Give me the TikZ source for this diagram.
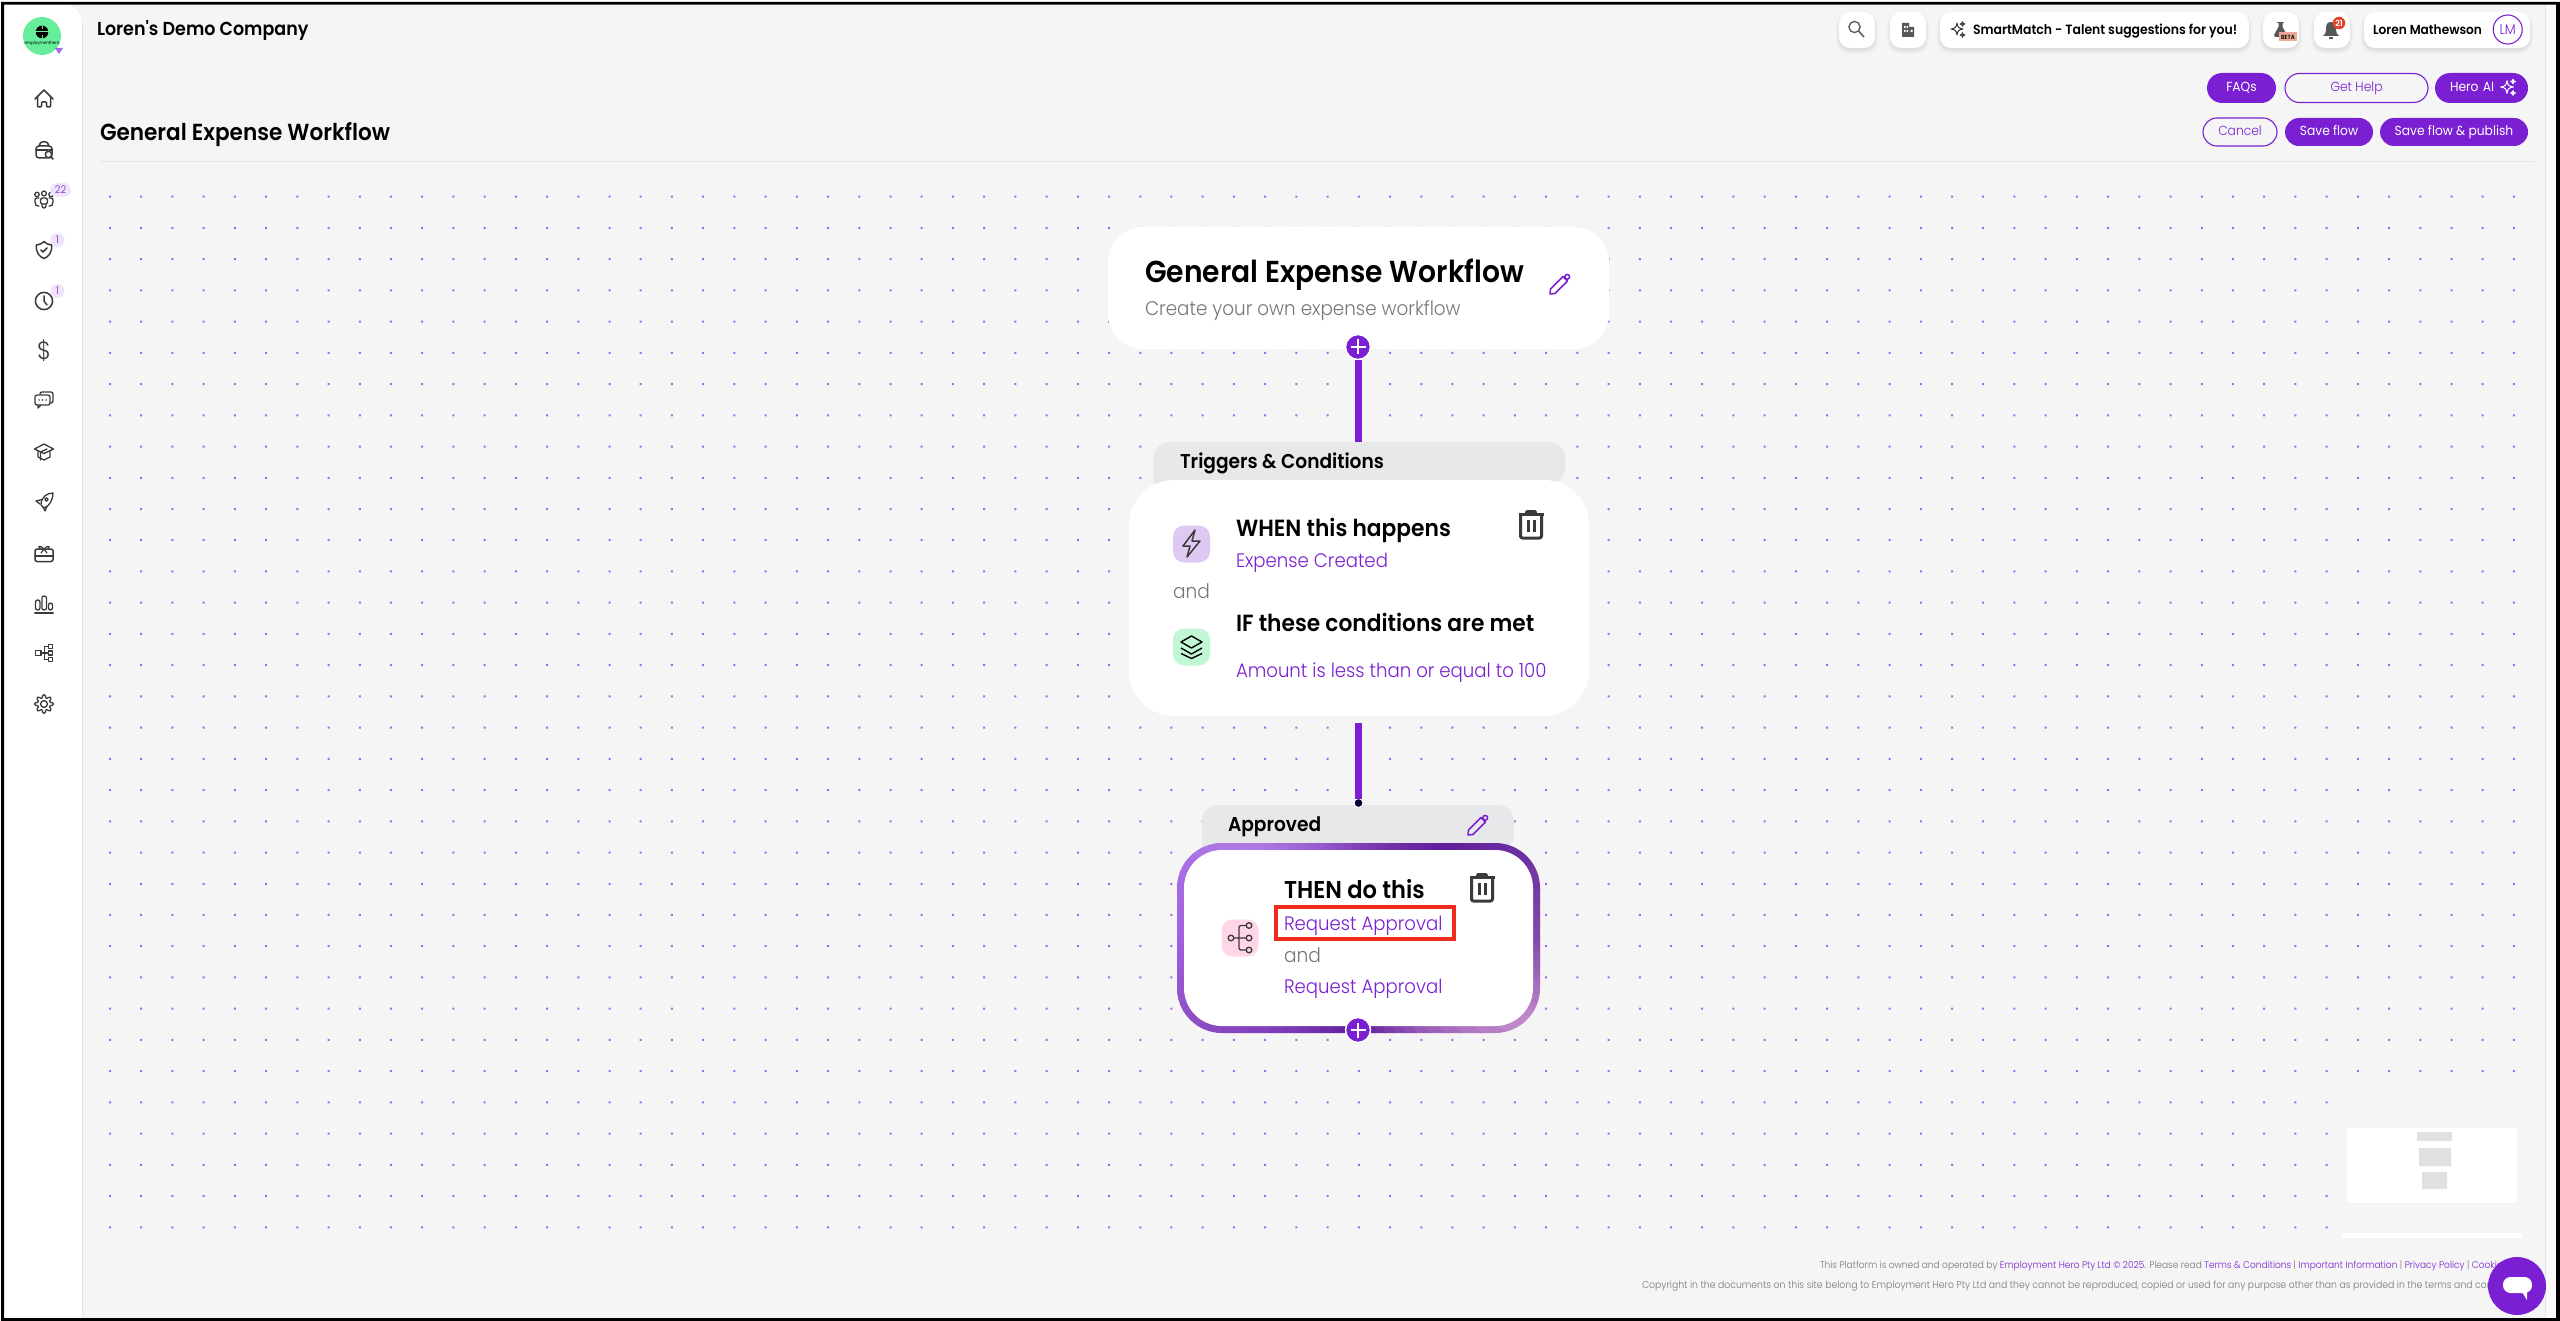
\documentclass[tikz,border=0pt]{standalone}
\usepackage{fontspec}
\setmainfont[FakeStretch=0.93]{Poppins}
\newfontfamily\flight[FakeStretch=0.93]{Poppins Light}
\newfontfamily\fsemi[FakeStretch=0.93]{Poppins SemiBold}
\newcommand\sz[1]{\fontsize{#1}{#1}\selectfont}
\definecolor{flow}{HTML}{7A1FD1}
\definecolor{canvas}{HTML}{F5F5F5}
\definecolor{tabgrey}{HTML}{E7E8EA}
\definecolor{edge}{HTML}{E4E4E4}
\definecolor{iconc}{HTML}{3A3A3A}
\definecolor{greytxt}{HTML}{777777}
\definecolor{dotc}{HTML}{A566F0}
\definecolor{logog}{HTML}{66EE9A}
\definecolor{boltbg}{HTML}{DFC9F3}
\definecolor{layerbg}{HTML}{C2F7D6}
\definecolor{forkbg}{HTML}{FFD6E8}
\definecolor{redbox}{HTML}{F02D1D}
\definecolor{betabg}{HTML}{F0A898}
\definecolor{bellred}{HTML}{E5432A}
\definecolor{ga}{HTML}{8248A8}
\definecolor{gb}{HTML}{C48CCB}
\definecolor{gc}{HTML}{5E1C9C}
\definecolor{gd}{HTML}{9050C8}
\definecolor{ge}{HTML}{A060E0}
\definecolor{gf}{HTML}{B07AE5}
\definecolor{gg}{HTML}{8040B8}
\definecolor{gh}{HTML}{5F1E9B}
\tikzset{
  txt/.style={anchor=base west,inner sep=0pt,outer sep=0pt},
  card/.style={rectangle,fill=white,inner sep=0pt,outer sep=0pt},
  pill/.style={rectangle,fill=white,inner sep=0pt,outer sep=0pt,rounded corners=11pt},
  btn/.style={rectangle,fill=flow,text=white,inner sep=0pt,outer sep=0pt,font=\sz{13.2},text height=10pt,text depth=3pt},
  btnout/.style={rectangle,draw=flow,line width=1.1pt,fill=canvas,text=flow,inner sep=0pt,outer sep=0pt,font=\flight\sz{13.2},text height=10pt,text depth=3pt},
  flowline/.style={draw=flow,line width=7pt},
  plusbtn/.style={circle,fill=flow,draw=white,line width=1.5pt,minimum size=25pt,inner sep=0pt,outer sep=0pt,
    path picture={\draw[white,line width=1.7pt]
      ([xshift=-7.5pt]path picture bounding box.center) -- ([xshift=7.5pt]path picture bounding box.center)
      ([yshift=-7.5pt]path picture bounding box.center) -- ([yshift=7.5pt]path picture bounding box.center);}},
  icon/.style={draw=iconc,line width=1.5pt,line join=round,line cap=round},
  head/.style={txt,font=\fsemi\sz{23.4},text=black},
  link/.style={txt,font=\flight\sz{19.5},text=flow},
  soft/.style={txt,font=\flight\sz{20},text=greytxt},
  iconbox/.style={rectangle,rounded corners=11pt,inner sep=0pt,outer sep=0pt,minimum width=37pt,minimum height=37pt},
}
\newcommand\pillshadow[4]{%
  \fill[black,opacity=.025,rounded corners=13pt] (#1-3,#2) rectangle (#3+3,#4+6);
  \fill[black,opacity=.03,rounded corners=12pt] (#1-1.5,#2+1) rectangle (#3+1.5,#4+4);
  \fill[black,opacity=.035,rounded corners=11pt] (#1-.5,#2+1) rectangle (#3+.5,#4+2);
}
\newcommand\trash[2]{\begin{scope}[shift={(#1,#2)},draw=iconc,line width=3pt,line join=round]
  \draw (-12.5,-11) -- (12.5,-11);
  \draw (-5,-11) -- (-4,-13.5) -- (4,-13.5) -- (5,-11);
  \draw[rounded corners=2pt] (-10.5,-11) -- (-10.5,13) -- (10.5,13) -- (10.5,-11);
  \draw (-3,-5) -- (-3,7) (3,-5) -- (3,7);
\end{scope}}
\newcommand\pencil[2]{\begin{scope}[shift={(#1,#2)},draw=flow,line width=1.5pt,line join=round]
  \draw (-10,10) -- (-9.5,5) -- (3,-7.5) -- (7.5,-3) -- (-5,9.5) -- cycle;
  \draw (7.2,-7.2) circle (2.4pt);
\end{scope}}
\newcommand\sparkle[4]{\path[draw=#4,line width=1pt,line join=round,shift={(#1,#2)},scale=#3]
  (0,-6) .. controls (.8,-1.5) and (1.5,-.8) .. (6,0) .. controls (1.5,.8) and (.8,1.5) .. (0,6)
  .. controls (-.8,1.5) and (-1.5,.8) .. (-6,0) .. controls (-1.5,-.8) and (-.8,-1.5) .. (0,-6) -- cycle;}
\begin{document}
\begin{tikzpicture}[x=1pt,y=-1pt]
\useasboundingbox (0,0) rectangle (2560,1321);
% page
\fill[white] (0,0) rectangle (2560,1321);
\fill[canvas] (82,4) rectangle (2546,1318);
\fill[white,rounded corners=14pt] (4,-20) rectangle (82,1340);
\fill[canvas] (60,4) -- (82,4) -- (82,26) .. controls (82,12) and (74,4) .. (60,4) -- cycle;
\draw[edge,line width=1pt] (82,24) -- (82,1318);
\fill[white!60!canvas] (2546,4) rectangle (2556,1318);
\draw[edge,line width=1.2pt] (2545.5,4) -- (2545.5,1318);
% dot grid
\fill[dotc]
  \foreach \k in {0,...,28}{\foreach \i in {0,...,77}{
    ({109+31.22*\i},{195.7+31.23*\k}) rectangle ++(2,2)}}
  \foreach \k in {29,...,33}{\foreach \i in {0,...,71}{
    ({109+31.22*\i},{195.7+31.23*\k}) rectangle ++(2,2)}};
% header
\node[txt,font=\fsemi\sz{18.8}] (company) at (97,36) {Loren's Demo Company};
\node[txt,font=\fsemi\sz{23.2}] (pagetitle) at (100,141) {General Expense Workflow};
\draw[edge,line width=1.2pt] (100,161.5) -- (2534,161.5);
% top bar pills
\pillshadow{1839}{12}{1875}{48}
\pillshadow{1890}{12}{1926}{48}
\pillshadow{1940}{12}{2249}{48}
\pillshadow{2263}{12}{2299}{48}
\pillshadow{2314}{12}{2350}{48}
\pillshadow{2364}{12}{2530}{48}
\node[pill,minimum width=36pt,minimum height=36pt] (search) at (1857,30) {};
\node[pill,minimum width=36pt,minimum height=36pt] (building) at (1908,30) {};
\node[pill,minimum width=309pt,minimum height=36pt] (smart) at (2094.5,30) {};
\node[pill,minimum width=36pt,minimum height=36pt] (beta) at (2281,30) {};
\node[pill,minimum width=36pt,minimum height=36pt] (bell) at (2332,30) {};
\node[pill,minimum width=166pt,minimum height=36pt] (user) at (2447,30) {};
\draw[draw=iconc!80,line width=1.4pt] (1854.5,27) circle (5.6pt);
\draw[draw=iconc!80,line width=1.6pt] (1858.5,31) -- (1864,37);
\fill[iconc!85] (1902,23) rectangle (1909,37) (1909,27) rectangle (1914,37);
\fill[white] (1904,26) rectangle (1905.5,28) (1906.5,26) rectangle (1908,28) (1904,30) rectangle (1905.5,32) (1906.5,30) rectangle (1908,32) (1910.5,30) rectangle (1912.5,32);
\sparkle{1957}{29}{1}{iconc}
\sparkle{1962.5}{24}{.4}{iconc}
\sparkle{1962.5}{35}{.4}{iconc}
\node[txt,font=\fsemi\sz{13.4}] (smarttxt) at (1973,35) {SmartMatch - Talent suggestions for you!};
\draw[iconc!85,line width=1.3pt] (2277,22.5) -- (2284,22.5);
\fill[iconc!85] (2278.5,23) -- (2282.5,23) -- (2282.5,27) -- (2287,35) -- (2286,37) -- (2275,37) -- (2274,35) -- (2278.5,27) -- cycle;
\node[rectangle,fill=betabg,minimum width=18pt,minimum height=9pt,inner sep=0pt,font=\fsemi\sz{6},text=black] (betatag) at (2288,37) {BETA};
\fill[iconc!85] (2331,22) .. controls (2326,22) and (2326,26) .. (2326,30) .. controls (2326,33) and (2325,34) .. (2323,36) -- (2339,36) .. controls (2337,34) and (2336,33) .. (2336,30) .. controls (2336,26) and (2336,22) .. (2331,22) -- cycle;
\fill[iconc!85] (2329,37) rectangle (2333,39);
\node[circle,fill=bellred,minimum size=12.5pt,inner sep=0pt,text=white,font=\fsemi\sz{8.5}] (bellcount) at (2339,23) {21};
\node[txt,font=\fsemi\sz{13.1}] (username) at (2373,35) {Loren Mathewson};
\node[circle,draw=flow,line width=1.1pt,minimum size=29pt,inner sep=0pt,text=flow,font=\flight\sz{14}] (lm) at (2507.7,29.5) {LM};
% buttons
\node[btn,rounded corners=15pt,minimum width=69pt,minimum height=30pt] (faqs) at (2241.5,88) {FAQs};
\node[btnout,rounded corners=14.5pt,minimum width=143pt,minimum height=29pt] (help) at (2356.5,88) {Get Help};
\node[btn,rounded corners=15pt,minimum width=93pt,minimum height=30pt,text width=63pt,align=left] (heroai) at (2481.5,88) {Hero AI};
\sparkle{2507}{87}{1.05}{white}
\sparkle{2513}{81.5}{.4}{white}
\sparkle{2513}{93}{.4}{white}
\node[btnout,rounded corners=14pt,minimum width=74pt,minimum height=28pt] (cancel) at (2240,132) {Cancel};
\node[btn,rounded corners=14pt,minimum width=88pt,minimum height=28pt] (saveflow) at (2329,132) {Save flow};
\node[btn,rounded corners=14pt,minimum width=148pt,minimum height=28pt] (publish) at (2454,132) {Save flow \& publish};
% sidebar
\fill[logog] (42,36) circle (19pt);
\fill[black] (42,32) circle (6.3pt);
\draw[logog,line width=1pt] (35,32) -- (49,32) (42,26) -- (42,29) (42,35) -- (42,38);
\node[inner sep=0pt,font=\sz{4.3},text=black] (logotxt) at (42,43.5) {employmenthero};
\fill[dotc] (55,48) -- (63,48) -- (59,54) -- cycle;
% icons
\begin{scope}[shift={(44,99)},icon]
  \draw (-9,0) -- (0,-9) -- (9,0);
  \draw[rounded corners=1pt] (-6.5,-2) -- (-6.5,8) -- (-2.5,8) -- (-2.5,3) -- (2.5,3) -- (2.5,8) -- (6.5,8) -- (6.5,-2);
\end{scope}
\begin{scope}[shift={(44,150)},icon]
  \draw[rounded corners=3pt] (-8,-4) rectangle (8,8);
  \draw (-5,-4) .. controls (-5,-10) and (5,-10) .. (5,-4);
  \draw (-8,0) -- (8,0);
  \fill[white] (4.5,4.5) circle (4pt);
  \draw (4.5,4.5) circle (3.2pt) (6.8,6.8) -- (9,9);
\end{scope}
\begin{scope}[shift={(44,200)},icon,line width=1.3pt]
  \draw (-7,-5.5) circle (2.2pt) (0,-6.5) circle (2.4pt) (7,-5.5) circle (2.2pt);
  \draw[rounded corners=2pt] (-3.5,-2) rectangle (3.5,4) (-2,4) -- (-2,8) -- (2,8) -- (2,4);
  \draw[rounded corners=2pt] (-5,-2) -- (-9,-2) -- (-9,4) -- (-7,7) -- (-5,6);
  \draw[rounded corners=2pt] (5,-2) -- (9,-2) -- (9,4) -- (7,7) -- (5,6);
\end{scope}
\begin{scope}[shift={(44,250)},icon]
  \draw (-7.5,-5) .. controls (-3,-6) and (-1,-7) .. (0,-8.5) .. controls (1,-7) and (3,-6) .. (7.5,-5) .. controls (8.5,3) and (4,7) .. (0,8.5) .. controls (-4,7) and (-8.5,3) .. (-7.5,-5) -- cycle;
  \draw (-3,0) -- (-1,2) -- (3,-2);
\end{scope}
\begin{scope}[shift={(44,301)},icon]
  \draw (0,0) circle (8.6pt);
  \draw (0,-5) -- (0,0) -- (3,4);
\end{scope}
\node[inner sep=0pt,font=\flight\sz{25},text=iconc] (dollar) at (44,351) {\$};
\begin{scope}[shift={(44,400)},icon,line width=1.3pt]
  \draw[rounded corners=2pt] (-4,-6) -- (-4,-8) -- (9,-8) -- (9,3) -- (6,3);
  \draw[rounded corners=2pt] (-9,-5) rectangle (6,5);
  \draw (-6,5) -- (-6,8) -- (-3,5);
  \draw (-5,0) -- (-4.9,0) (-1.5,0) -- (-1.4,0) (2,0) -- (2.1,0);
\end{scope}
\begin{scope}[shift={(44,452)},icon,line width=1.3pt]
  \draw (-9.5,-3) -- (0,-8) -- (9.5,-3) -- (0,1.5) -- cycle;
  \draw (-6,-1) -- (-6,5) -- (0,8) -- (6,5) -- (6,-1);
  \draw (-3.5,8) -- (-3.5,0) -- (3,-3);
\end{scope}
\begin{scope}[shift={(44,502)},icon,line width=1.3pt]
  \draw (9,-9) .. controls (3,-9) and (-3,-5) .. (-3,3) -- (-0,6) .. controls (6,4) and (9,-3) .. (9,-9) -- cycle;
  \draw (2.5,-2.5) circle (1.7pt);
  \draw (-2,-2.5) -- (-8,-1) -- (-4,2);
  \draw (3,4.5) -- (1,9) -- (-1,5);
\end{scope}
\begin{scope}[shift={(44,553)},icon]
  \draw[rounded corners=2pt] (-9,-4) rectangle (9,8.5);
  \draw[line width=2pt] (-9,2.5) -- (9,2.5);
  \draw[line width=1.2pt] (0,-4) .. controls (-6,-10) and (-6,-4) .. (-4,-5) -- (-4,-4) (0,-4) .. controls (6,-10) and (6,-4) .. (4,-5) (0,-4) -- (-3,0) (0,-4) -- (3,0);
\end{scope}
\begin{scope}[shift={(44,604)},icon,line width=1.3pt]
  \draw[rounded corners=2pt] (-8.5,-4) rectangle (-4,6);
  \draw[rounded corners=2pt] (-2,-8) rectangle (2.5,6);
  \draw[rounded corners=2pt] (4.5,-1) rectangle (8.5,6);
  \draw[line width=2pt] (-9,9) -- (9,9);
\end{scope}
\begin{scope}[shift={(44,653)},icon,line width=1.3pt]
  \draw (-8.5,-2.5) rectangle (-3,2.5);
  \draw (4.5,-8.5) rectangle (8.5,-4.5) (4.5,-2) rectangle (8.5,2) (4.5,4.5) rectangle (8.5,8.5);
  \draw (-3,0) -- (4.5,0) (0.5,-6.5) -- (0.5,6.5) (0.5,-6.5) -- (4.5,-6.5) (0.5,6.5) -- (4.5,6.5);
\end{scope}
\begin{scope}[shift={(44,704)},icon,line width=1.3pt]
  \draw plot[domain=0:360,samples=73,smooth] ({(7.7+1.6*cos(8*\x))*cos(\x)},{(7.7+1.6*cos(8*\x))*sin(\x)});
  \draw (0,0) circle (3.4pt);
\end{scope}
% badges
\node[rectangle,rounded corners=7pt,fill=flow!12!white,minimum width=21pt,minimum height=14pt,inner sep=0pt,text=flow,font=\flight\sz{10.5}] (badgea) at (60.5,190) {22};
\node[circle,fill=flow!12!white,minimum size=14pt,inner sep=0pt,text=flow,font=\flight\sz{10.5}] (badgeb) at (57.5,240) {1};
\node[circle,fill=flow!12!white,minimum size=14pt,inner sep=0pt,text=flow,font=\flight\sz{10.5}] (badgec) at (57.5,291) {1};
% minimap
\fill[white] (2347,1128) rectangle (2517,1203);
\fill[black!12] (2417,1132) rectangle (2452,1141) (2419,1148) rectangle (2451,1166) (2422,1172) rectangle (2447,1189);
\fill[white] (2342,1233) rectangle (2522,1238);
% footer
\node[txt,font=\flight\sz{9.7},text=greytxt] (footera) at (1820,1268) {This Platform is owned and operated by \textcolor{flow}{Employment Hero Pty Ltd © 2025.} Please read \textcolor{flow}{Terms \& Conditions} | \textcolor{flow}{Important Information} | \textcolor{flow}{Privacy Policy} | \textcolor{flow}{Cookie}};
\node[txt,font=\flight\sz{10},text=greytxt] (footerb) at (1642,1288) {Copyright in the documents on this site belong to Employment Hero Pty Ltd and they cannot be reproduced, copied or used for any purpose other than as provided in the terms and conditions of};
\node[circle,fill=flow,minimum size=58pt,inner sep=0pt] (chat) at (2517,1286) {};
\fill[white,rounded corners=7.5pt] (2503,1277) rectangle (2532,1293);
\fill[white] (2522,1292) -- (2527,1292) -- (2527,1300) -- cycle;
% start card
\node[card,rounded corners=35pt,minimum width=501pt,minimum height=122pt] (startcard) at (1358.5,288) {};
\node[txt,font=\fsemi\sz{30.3}] (starttitle) at (1145,283) {General Expense Workflow};
\node[soft,font=\flight\sz{19.7}] (startsub) at (1145,316) {Create your own expense workflow};
\pencil{1560}{284}
% triggers
\fill[tabgrey,rounded corners=16pt] (1153.5,484) -- (1153.5,442) -- (1565,442) -- (1565,484) [sharp corners] -- cycle;
\coordinate (triggertop) at (1358,442);
\node[card,rounded corners=45pt,minimum width=460pt,minimum height=236pt] (triggercard) at (1359,598) {};
\node[txt,font=\fsemi\sz{20}] (triggerlabel) at (1180,468) {Triggers \& Conditions};
\node[iconbox,fill=boltbg] (bolticon) at (1191.5,544) {};
\draw[iconc,line width=1.5pt,line join=round] (1195,530) -- (1183,546) -- (1190,546) -- (1187,557) -- (1200,541) -- (1192,541) -- cycle;
\node[soft] (anda) at (1173,598) {and};
\node[iconbox,fill=layerbg] (layericon) at (1191.5,647) {};
\draw[black,line width=1.4pt,line join=round] (1191.5,636) -- (1202,642) -- (1191.5,648) -- (1181,642) -- cycle;
\draw[black,line width=1.4pt,line join=round] (1181,648) -- (1191.5,654) -- (1202,648) (1181,653.5) -- (1191.5,658.5) -- (1202,653.5);
\node[head] (whentxt) at (1236,536) {WHEN this happens};
\node[link] (expense) at (1236,567) {Expense Created};
\node[head] (iftxt) at (1236,631) {IF these conditions are met};
\node[link] (amount) at (1236,677) {Amount is less than or equal to 100};
\trash{1531}{525}
% approved
\fill[tabgrey,rounded corners=16pt] (1202,850) -- (1202,805) -- (1514,805) -- (1514,850) [sharp corners] -- cycle;
\node[txt,font=\fsemi\sz{20}] (approvedlabel) at (1228,831) {Approved};
\pencil{1478}{825}
\begin{scope}
  \clip[rounded corners=45pt] (1177,843) rectangle (1540,1033);
  \foreach \aa/\ab/\ca/\cb in {0/27/ga/gb,27/90/gb/gc,90/157/gc/gd,157/180/gd/ge,180/220/ge/gf,220/270/gf/gg,270/314/gg/gh,314/360/gh/ga}{
    \foreach \t in {0,...,11}{
      \pgfmathsetmacro\aone{\aa+(\ab-\aa)*\t/12}
      \pgfmathsetmacro\atwo{\aa+(\ab-\aa)*(\t+1)/12+.6}
      \pgfmathsetmacro\pct{100*(\t+.5)/12}
      \fill[\cb!\pct!\ca] (1358.5,938) -- ([shift={(\aone:420)}]1358.5,938) -- ([shift={(\atwo:420)}]1358.5,938) -- cycle;
    }}
\end{scope}
\node[card,rounded corners=38pt,minimum width=349pt,minimum height=176pt] (thencard) at (1358.5,938) {};
\node[iconbox,fill=forkbg] (forkicon) at (1240,938) {};
\draw[iconc,line width=1.3pt] (1231,938) circle (2.8pt) (1249,925.5) circle (2.8pt) (1249,938) circle (2.8pt) (1249,950) circle (2.8pt);
\draw[iconc,line width=1.3pt,rounded corners=2pt] (1234,938) -- (1246,938) (1246,925.5) -- (1239,925.5) -- (1239,950) -- (1246,950);
\node[txt,font=\fsemi\sz{24.3},text=black] (thentxt) at (1284,898.5) {THEN do this};
\node[link] (requesta) at (1284,930) {Request Approval};
\node[soft] (andb) at (1284,962) {and};
\node[link] (requestb) at (1284,993) {Request Approval};
\draw[draw=redbox,line width=4pt] (1275.5,906.5) rectangle (1453.5,938.5);
\trash{1482}{888}
% connectors
\node[plusbtn] (plusa) at (1358,347) {};
\node[plusbtn] (plusb) at (1358,1030) {};
\node[circle,fill=black!80!blue,draw=white,line width=1pt,minimum size=9pt,inner sep=0pt,outer sep=0pt] (enddot) at (1358.5,803) {};
\draw[flowline,shorten <=1pt] (plusa.south) -- (triggertop);
\draw[flowline,shorten <=7pt] (triggercard.south -| enddot) -- (enddot.north);
% frame
\fill[black] (1,2) rectangle (2560,4.7) (1,2) rectangle (4,1321) (1,1318) rectangle (2560,1321) (2556,2) rectangle (2560,1321);
\end{tikzpicture}
\end{document}
